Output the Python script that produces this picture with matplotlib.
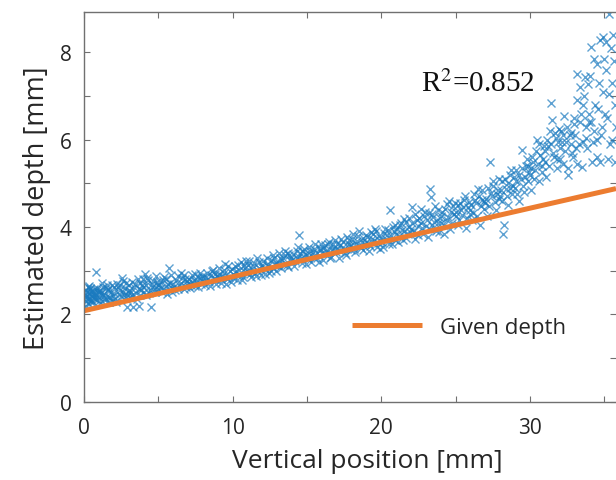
import matplotlib.pyplot as plt
import numpy as np

# scatter of estimated depth vs vertical position (bin by bin)
pos_mm = [
    0.05, 0.1, 0.15, 0.2, 0.25, 0.3, 0.35, 0.4, 0.5, 0.55, 0.6, 0.7, 0.8, 0.79, 0.9, 0.95,
    0.08, 0.22, 0.45, 0.65, 0.85, 0.12, 0.38, 0.72,
    0.02, 0.18, 0.28, 0.42, 0.48, 0.62, 0.68, 0.88, 0.98, 0.32, 0.58,
    1.0, 1.1, 1.2, 1.3, 1.4, 1.5, 1.6, 1.7, 1.8, 1.9, 1.95, 1.15, 1.45, 1.75,
    1.05, 1.25, 1.35, 1.55, 1.65, 1.85, 1.22, 1.62,
    2.0, 2.1, 2.25, 2.4, 2.5, 2.6, 2.75, 2.85, 2.95, 2.3, 2.7,
    2.05, 2.18, 2.35, 2.45, 2.65, 2.8, 2.9, 2.55,
    3.0, 3.1, 3.2, 3.35, 3.5, 3.6, 3.7, 3.8, 3.9, 2.9, 3.7, 3.3,
    3.05, 3.15, 3.25, 3.45, 3.55, 3.75, 3.85, 3.95,
    4.0, 4.1, 4.2, 4.3, 4.45, 4.5, 4.6, 4.75, 4.85, 4.95,
    4.05, 4.15, 4.25, 4.35, 4.55, 4.65, 4.8, 4.9,
    5.0, 5.1, 5.25, 5.4, 5.5, 5.6, 5.7, 5.8, 5.95,
    5.05, 5.2, 5.3, 5.45, 5.55, 5.65, 5.85, 5.9,
    6.0, 6.15, 6.3, 6.4, 6.55, 6.7, 6.8, 6.9,
    6.05, 6.2, 6.35, 6.5, 6.6, 6.75, 6.85, 6.95,
    7.0, 7.1, 7.25, 7.4, 7.5, 7.65, 7.8, 7.9,
    7.05, 7.2, 7.3, 7.45, 7.55, 7.7, 7.85, 7.95,
    8.0, 8.15, 8.3, 8.4, 8.55, 8.7, 8.85, 8.95,
    8.05, 8.2, 8.35, 8.45, 8.6, 8.75, 8.8, 8.9,
    9.0, 9.1, 9.25, 9.4, 9.5, 9.65, 9.8, 9.9,
    9.05, 9.2, 9.3, 9.45, 9.55, 9.7, 9.75, 9.95,
    10.0, 10.15, 10.3, 10.4, 10.55, 10.7, 10.85, 10.95,
    10.05, 10.2, 10.35, 10.45, 10.6, 10.75, 10.8, 10.9,
    11.0, 11.1, 11.25, 11.4, 11.5, 11.65, 11.8, 11.9,
    11.05, 11.2, 11.3, 11.45, 11.55, 11.7, 11.75, 11.95,
    12.0, 12.15, 12.3, 12.4, 12.55, 12.7, 12.85, 12.95,
    12.05, 12.2, 12.35, 12.45, 12.6, 12.75, 12.8, 12.9,
    13.0, 13.1, 13.25, 13.4, 13.5, 13.65, 13.8, 13.9,
    13.05, 13.2, 13.3, 13.45, 13.55, 13.7, 13.75, 13.95,
    14.0, 14.15, 14.3, 14.45, 14.5, 14.65, 14.8, 14.9,
    14.05, 14.2, 14.35, 14.4, 14.55, 14.7, 14.75, 14.95,
    15.0, 15.15, 15.3, 15.4, 15.55, 15.7, 15.85, 15.95,
    15.05, 15.2, 15.25, 15.45, 15.5, 15.65, 15.8, 15.9,
    16.0, 16.1, 16.25, 16.4, 16.5, 16.65, 16.8, 16.9,
    16.05, 16.2, 16.3, 16.45, 16.55, 16.7, 16.75, 16.95,
    17.0, 17.15, 17.3, 17.4, 17.55, 17.7, 17.85, 17.95,
    17.05, 17.2, 17.25, 17.45, 17.5, 17.65, 17.8, 17.9,
    18.0, 18.1, 18.25, 18.4, 18.5, 18.65, 18.8, 18.9,
    18.05, 18.2, 18.3, 18.45, 18.55, 18.7, 18.75, 18.95,
    19.0, 19.15, 19.3, 19.4, 19.55, 19.7, 19.85, 19.95,
    19.05, 19.2, 19.25, 19.45, 19.5, 19.65, 19.8, 19.9,
    20.0, 20.1, 20.25, 20.4, 20.6, 20.7, 20.85, 20.95,
    20.05, 20.2, 20.3, 20.45, 20.5, 20.65, 20.8, 20.9,
    21.0, 21.15, 21.3, 21.4, 21.55, 21.7, 21.85, 21.95,
    21.05, 21.2, 21.25, 21.45, 21.5, 21.65, 21.8, 21.9,
    22.0, 22.1, 22.25, 22.4, 22.5, 22.65, 22.8, 22.9,
    22.05, 22.2, 22.3, 22.45, 22.55, 22.7, 22.75, 22.95,
    23.0, 23.15, 23.3, 23.35, 23.4, 23.55, 23.7, 23.85, 23.95,
    23.05, 23.2, 23.25, 23.45, 23.5, 23.65, 23.8, 23.9,
    24.0, 24.1, 24.25, 24.4, 24.5, 24.65, 24.8, 24.9,
    24.05, 24.2, 24.3, 24.45, 24.55, 24.7, 24.75, 24.95,
    25.0, 25.15, 25.3, 25.4, 25.55, 25.7, 25.85, 25.95,
    25.05, 25.2, 25.25, 25.45, 25.5, 25.65, 25.8, 25.9,
    26.0, 26.1, 26.25, 26.4, 26.5, 26.65, 26.8, 26.9,
    26.05, 26.2, 26.3, 26.45, 26.55, 26.7, 26.75, 26.95,
    27.0, 27.15, 27.3, 27.4, 27.55, 27.7, 27.85, 27.95,
    27.05, 27.2, 27.25, 27.45, 27.5, 27.65, 27.8, 27.9,
    28.0, 28.1, 28.2, 28.25, 28.4, 28.5, 28.65, 28.8, 28.9,
    28.05, 28.15, 28.3, 28.45, 28.55, 28.7, 28.75, 28.95,
    29.0, 29.1, 29.25, 29.4, 29.5, 29.6, 29.75, 29.85, 29.95,
    29.05, 29.15, 29.3, 29.45, 29.55, 29.7, 29.8, 29.9,
    30.0, 30.1, 30.2, 30.35, 30.5, 30.6, 30.7, 30.85, 30.95,
    30.05, 30.15, 30.3, 30.4, 30.55, 30.65, 30.8, 30.9,
    31.0, 31.1, 31.2, 31.4, 31.5, 31.6, 31.7, 31.8, 31.9,
    31.05, 31.15, 31.3, 31.35, 31.45, 31.55, 31.75, 31.85, 31.95,
    32.0, 32.1, 32.2, 32.3, 32.45, 32.6, 32.7, 32.85, 32.95,
    32.05, 32.15, 32.25, 32.35, 32.5, 32.55, 32.75, 32.8, 32.9,
    33.0, 33.1, 33.2, 33.2, 33.4, 33.5, 33.6, 33.7, 33.8, 33.9, 33.95,
    33.05, 33.15, 33.3, 33.35, 33.45, 33.55, 33.65, 33.75, 33.85,
    34.0, 34.1, 34.2, 34.3, 34.5, 34.5, 34.6, 34.7, 34.7, 34.85, 34.95,
    34.05, 34.15, 34.25, 34.35, 34.4, 34.55, 34.65, 34.8, 34.9,
    35.0, 35.1, 35.2, 35.3, 35.4, 35.5, 35.6, 35.7, 35.8,
    35.05, 35.15, 35.25, 35.35, 35.45, 35.55, 35.65, 35.75,
]
est_depth = [
    2.45, 2.30, 2.55, 2.38, 2.62, 2.25, 2.48, 2.35, 2.52, 2.41, 2.28, 2.58, 2.44, 2.96, 2.33, 2.50,
    2.40, 2.50, 2.32, 2.45, 2.60, 2.20, 2.58, 2.36,
    2.52, 2.42, 2.34, 2.60, 2.27, 2.50, 2.38, 2.55, 2.30, 2.65, 2.46,
    2.40, 2.55, 2.30, 2.62, 2.45, 2.35, 2.58, 2.28, 2.50, 2.68, 2.42, 2.48, 2.60, 2.38,
    2.52, 2.44, 2.36, 2.66, 2.40, 2.30, 2.72, 2.55,
    2.48, 2.35, 2.70, 2.55, 2.42, 2.76, 2.60, 2.38, 2.52, 2.62, 2.45,
    2.62, 2.28, 2.46, 2.66, 2.50, 2.72, 2.44, 2.82,
    2.55, 2.40, 2.75, 2.62, 2.48, 2.80, 2.58, 2.45, 2.68, 2.16, 2.19, 2.16,
    2.66, 2.50, 2.44, 2.70, 2.36, 2.72, 2.55, 2.80,
    2.62, 2.92, 2.45, 2.78, 2.55, 2.16, 2.70, 2.50, 2.88, 2.66,
    2.52, 2.68, 2.82, 2.48, 2.62, 2.76, 2.58, 2.74,
    2.58, 2.75, 2.52, 2.85, 2.64, 2.46, 3.07, 2.72, 2.60,
    2.68, 2.60, 2.78, 2.55, 2.80, 2.70, 2.90, 2.52,
    2.70, 2.55, 2.88, 2.66, 2.95, 2.58, 2.80, 2.68,
    2.62, 2.78, 2.58, 2.72, 2.84, 2.90, 2.62, 2.76,
    2.72, 2.60, 2.90, 2.78, 2.65, 2.85, 2.95, 2.70,
    2.80, 2.68, 2.74, 2.92, 2.76, 2.62, 2.84, 2.88,
    2.82, 2.68, 2.95, 2.75, 2.90, 3.02, 2.78, 2.88,
    2.74, 2.86, 2.80, 2.64, 2.98, 2.84, 2.92, 2.70,
    2.85, 3.05, 2.72, 2.95, 3.15, 2.80, 2.98, 2.74,
    2.92, 2.80, 2.88, 3.02, 2.70, 3.10, 2.86, 3.04,
    2.92, 3.10, 2.78, 3.02, 3.20, 2.86, 3.06, 2.95,
    2.84, 3.00, 3.14, 2.90, 2.78, 3.12, 2.96, 3.22,
    3.00, 3.22, 2.85, 3.10, 2.95, 3.28, 3.05, 2.90,
    3.14, 2.92, 3.04, 3.18, 2.88, 3.00, 3.20, 3.12,
    3.08, 2.92, 3.30, 3.15, 3.00, 3.35, 3.12, 2.98,
    3.22, 3.04, 3.10, 2.94, 3.24, 3.06, 3.28, 3.18,
    3.18, 3.40, 3.05, 3.28, 3.45, 3.12, 3.35, 3.22,
    3.10, 3.30, 3.24, 3.14, 3.36, 3.40, 3.08, 3.30,
    3.25, 3.10, 3.45, 3.32, 3.82, 3.18, 3.50, 3.38,
    3.38, 3.22, 3.30, 3.54, 3.40, 3.28, 3.44, 3.16,
    3.35, 3.55, 3.20, 3.42, 3.62, 3.28, 3.48, 3.60,
    3.26, 3.44, 3.36, 3.30, 3.50, 3.40, 3.20, 3.52,
    3.40, 3.25, 3.58, 3.45, 3.66, 3.32, 3.52, 3.70,
    3.52, 3.38, 3.46, 3.60, 3.30, 3.48, 3.62, 3.42,
    3.50, 3.30, 3.72, 3.55, 3.40, 3.78, 3.62, 3.48,
    3.62, 3.44, 3.58, 3.66, 3.50, 3.36, 3.70, 3.56,
    3.58, 3.85, 3.42, 3.68, 3.90, 3.52, 3.75, 3.62,
    3.72, 3.50, 3.60, 3.80, 3.56, 3.66, 3.48, 3.82,
    3.65, 3.45, 3.88, 3.72, 3.95, 3.55, 3.80, 3.68,
    3.78, 3.62, 3.56, 3.84, 3.70, 3.90, 3.64, 3.50,
    3.75, 3.55, 3.95, 3.82, 4.40, 3.62, 3.90, 4.05,
    3.66, 3.86, 3.72, 3.94, 3.60, 3.80, 4.00, 3.70,
    3.85, 3.65, 4.10, 3.92, 4.18, 3.75, 4.00, 3.88,
    3.96, 3.80, 4.05, 3.70, 3.90, 4.12, 3.84, 4.20,
    3.95, 4.45, 3.72, 4.15, 4.02, 4.42, 3.85, 4.25,
    4.08, 3.90, 4.30, 3.82, 4.20, 4.10, 3.98, 4.35,
    4.02, 3.78, 4.88, 4.69, 4.30, 4.12, 3.90, 4.40, 4.20,
    4.15, 4.32, 3.95, 4.05, 4.22, 4.48, 4.10, 3.88,
    4.10, 4.35, 3.85, 4.52, 4.22, 3.95, 4.48, 4.30,
    4.25, 4.05, 4.42, 4.15, 4.60, 4.35, 4.10, 4.55,
    4.25, 4.05, 4.55, 4.38, 4.62, 3.98, 4.45, 4.30,
    4.35, 4.50, 4.15, 4.28, 4.45, 4.70, 4.20, 4.58,
    4.40, 4.15, 4.75, 4.55, 4.88, 4.05, 4.62, 4.42,
    4.50, 4.32, 4.62, 4.25, 4.70, 4.48, 4.85, 4.60,
    4.55, 4.25, 5.49, 4.78, 4.95, 4.40, 4.85, 4.65,
    4.65, 4.90, 4.48, 4.70, 5.05, 4.58, 4.75, 5.10,
    4.70, 5.05, 3.84, 4.04, 4.88, 4.50, 5.20, 4.75, 4.95,
    4.85, 4.60, 5.10, 4.70, 5.00, 4.90, 5.30, 5.15,
    4.90, 5.30, 4.60, 5.10, 5.76, 4.80, 5.40, 5.05, 5.25,
    5.05, 4.75, 5.20, 5.35, 4.95, 5.15, 5.55, 5.40,
    5.20, 4.85, 5.50, 5.30, 6.00, 5.05, 5.65, 5.40, 5.85,
    5.35, 5.60, 5.10, 5.75, 5.45, 5.90, 5.25, 5.55,
    5.50, 5.15, 5.85, 6.85, 6.45, 5.60, 6.15, 5.35, 5.95,
    5.75, 6.00, 5.40, 6.20, 5.90, 5.70, 6.05, 5.55, 6.25,
    5.80, 6.20, 5.45, 6.55, 5.95, 5.20, 6.10, 5.70, 6.35,
    5.55, 5.95, 6.10, 5.75, 6.30, 5.35, 5.90, 6.15, 5.60,
    6.50, 5.80, 7.51, 5.45, 6.40, 5.37, 6.80, 7.44, 6.05, 7.28, 6.40,
    6.10, 6.90, 5.90, 7.20, 6.60, 5.95, 7.00, 6.30, 5.80,
    6.60, 8.13, 5.50, 6.20, 7.74, 6.00, 6.70, 8.28, 5.49, 6.30, 7.10,
    7.45, 6.40, 5.95, 7.85, 6.80, 5.60, 7.30, 6.10, 8.35,
    7.86, 8.24, 6.50, 8.89, 5.90, 7.30, 8.40, 6.80, 6.30,
    6.60, 7.60, 5.55, 7.05, 8.10, 6.00, 7.80, 5.50,
]

# given (reference) depth line
given_pos = [0, 10, 20, 30, 35.8]
given_depth = [2.08, 2.86, 3.65, 4.43, 4.88]

plt.rcParams['font.family'] = ['Open Sans', 'DejaVu Sans']

fig = plt.figure(figsize=(6.16, 4.81), dpi=100)
ax = fig.add_axes([0.1364, 0.1632, 0.8636, 0.8091])

ax.plot(pos_mm, est_depth, 'x', color='#1a7abf', markersize=6, markeredgewidth=1.0, alpha=0.7)
ax.plot(given_pos, given_depth, color='#ec7c30', linewidth=3.6, solid_capstyle='butt',
        label='Given depth')

ax.set_xlim(0, 35.8)
ax.set_ylim(0, 8.92)
ax.set_xticks([0, 10, 20, 30])
ax.set_xticks([5, 15, 25, 35], minor=True)
ax.set_yticks([0, 2, 4, 6, 8])
ax.set_yticks([1, 3, 5, 7], minor=True)

for s in ['left', 'bottom', 'top']:
    ax.spines[s].set_color('#707070')
    ax.spines[s].set_linewidth(1.0)
ax.spines['right'].set_visible(False)

ax.tick_params(which='both', direction='in', top=True, right=True, color='#707070',
               length=4, width=0.8)
ax.tick_params(axis='x', which='major', pad=11, labelsize=15, labelcolor='#262626')
ax.tick_params(axis='y', which='major', pad=9, labelsize=15, labelcolor='#262626')

ax.set_xlabel('Vertical position [mm]', fontsize=19, color='#262626')
ax.set_ylabel('Estimated depth [mm]', fontsize=19.5, color='#262626', labelpad=6)
# the source figure is cropped on the right, so the x label sits right of centre
ax.xaxis.set_label_coords(0.532, -0.12)

ax.text(22.7, 7.3, r'R$^2$=0.852', fontsize=21, family='Liberation Serif', va='center',
        color='#111111', math_fontfamily='stix')

ax.legend(loc='center left', bbox_to_anchor=(0.467, 0.19), frameon=False, fontsize=16,
          handlelength=3.15, labelcolor='#262626')

fig.savefig('out.png', dpi=100)
